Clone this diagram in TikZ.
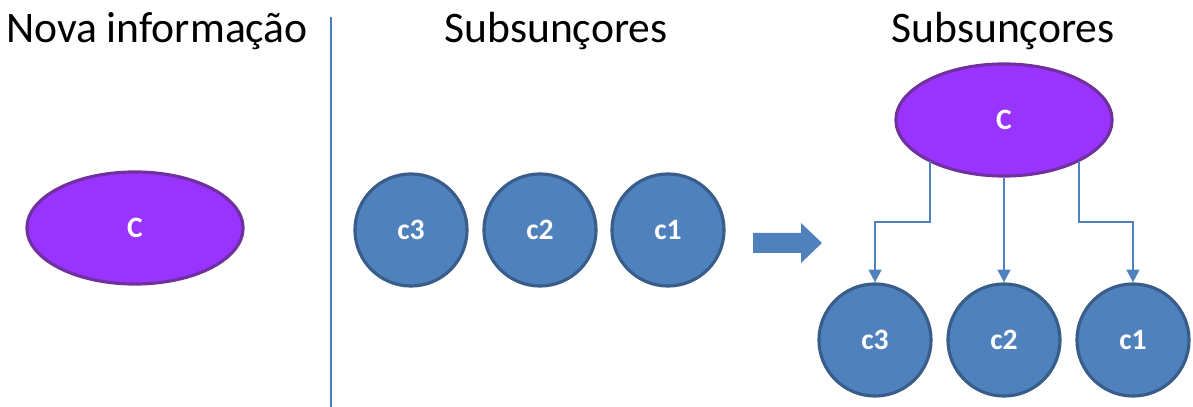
\documentclass[tikz,border=0pt]{standalone}
\usepackage{fontspec}
\setmainfont{Carlito}
\usetikzlibrary{arrows.meta,shapes.geometric}
\definecolor{purpfill}{HTML}{9933FF}
\definecolor{purpline}{HTML}{7030A0}
\definecolor{bluefill}{HTML}{4F81BD}
\definecolor{blueline}{HTML}{385D8A}
\definecolor{sepline}{HTML}{4A7EBB}
\tikzset{
  title/.style={font=\fontsize{12.4}{14}\selectfont, text=black, inner sep=0pt},
  concept/.style={ellipse, draw=purpline, fill=purpfill, line width=0.9pt,
    minimum width=2.16cm, minimum height=1.12cm, inner sep=0pt,
    font=\fontsize{8.4}{9}\selectfont\bfseries, text=white},
  sub/.style={circle, draw=blueline, fill=bluefill, line width=0.9pt,
    minimum size=1.12cm, inner sep=0pt,
    font=\fontsize{8.4}{9}\selectfont\bfseries, text=white},
  conn/.style={draw=bluefill, line width=0.6pt, -{Triangle[length=3.6pt,width=3.6pt]}},
  sep/.style={draw=sepline, line width=0.6pt},
  bigarrow/.style={fill=bluefill, draw=none}
}
\begin{document}
\begin{tikzpicture}[x=0.01cm,y=-0.01cm]
\useasboundingbox (0,0) rectangle (1193,407);
% titles
\node[title, anchor=base] (t1) at (157,43) {Nova informação};
\node[title, anchor=base] (t2) at (556,43) {Subsunçores};
\node[title, anchor=base] (t3) at (1003,43) {Subsunçores};
% separator
\coordinate (sepTop) at (331,17);
\coordinate (sepBot) at (331,407);
\draw[sep] (sepTop) -- (sepBot);
% left
\node[concept] (cL) at (135,228) {C};
% middle
\node[sub] (m3) at (411,230) {c3};
\node[sub] (m2) at (540,230) {c2};
\node[sub] (m1) at (668,230) {c1};
% block arrow
\path[bigarrow] (753,233) -- (801,233) -- (801,223) -- (822,243) -- (801,263) -- (801,253) -- (753,253) -- cycle;
% right tree
\node[concept] (top) at (1004,120) {C};
\node[sub] (b3) at (875,340) {c3};
\node[sub] (b2) at (1004,340) {c2};
\node[sub] (b1) at (1133,340) {c1};
\path (top.center) ++(-74,41.5) coordinate (tl);
\path (top.center) ++(75,41.5) coordinate (tr);
\draw[conn] (tl) -- (tl |- 0,222) -| (b3.north);
\draw[conn] (top.south) -- (b2.north);
\draw[conn] (tr) -- (tr |- 0,222) -| (b1.north);
\end{tikzpicture}
\end{document}
